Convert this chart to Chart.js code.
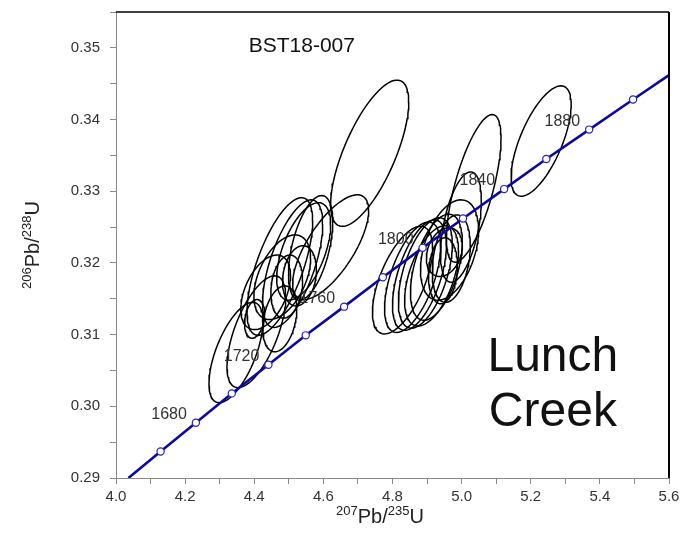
<!DOCTYPE html>
<html>
<head>
<meta charset="utf-8">
<script src="https://cdn.jsdelivr.net/npm/chart.js@4.4.0/dist/chart.umd.min.js"></script>
<style>
  body { margin: 0; background: #fff; }
  #wrap { width: 683px; height: 535px; position: relative; }
</style>
</head>
<body>
<div id="wrap"><canvas id="concordia"></canvas></div>
<script>
// concordia age markers (Ma) and their ratios
var markerAges = [1660, 1680, 1700, 1720, 1740, 1760, 1780, 1800, 1820, 1840, 1860, 1880, 1900];
var markerX = [4.129, 4.231, 4.335, 4.441, 4.549, 4.660, 4.772, 4.887, 5.004, 5.123, 5.245, 5.369, 5.496];
var markerY = [0.2937, 0.2977, 0.3018, 0.3058, 0.3099, 0.3139, 0.3180, 0.3221, 0.3262, 0.3303, 0.3345, 0.3386, 0.3428];
var labelAges = [1680, 1720, 1760, 1800, 1840, 1880];

// where the curve leaves the plot
var curveStart = [4.036, 0.290];
var curveEnd = [5.600, 0.3462];

// zircon analyses: 207Pb/235U, 206Pb/238U, 2 sigma half widths, error correlation
var ellX   = [4.347, 4.406, 4.401, 4.474, 4.433, 4.481, 4.494, 4.531, 4.474, 4.511, 4.543, 4.563, 4.621, 4.734,
              4.829, 4.858, 4.878, 4.895, 4.913, 4.927, 4.946, 4.970, 4.998, 5.035, 4.965, 4.950, 5.230];
var ellY   = [0.3075, 0.3104, 0.3122, 0.3122, 0.3159, 0.3180, 0.3167, 0.3182, 0.3195, 0.3199, 0.3216, 0.3221, 0.3222, 0.3353,
              0.3176, 0.3180, 0.3183, 0.3186, 0.3182, 0.3194, 0.3189, 0.3206, 0.3250, 0.3304, 0.3218, 0.3215, 0.3370];
var ellSx  = [0.078, 0.085, 0.029, 0.049, 0.072, 0.082, 0.046, 0.049, 0.095, 0.087, 0.078, 0.064, 0.110, 0.113,
              0.087, 0.081, 0.078, 0.078, 0.078, 0.075, 0.042, 0.055, 0.059, 0.079, 0.084, 0.052, 0.087];
var ellSy  = [0.0070, 0.0078, 0.0027, 0.0046, 0.0052, 0.0059, 0.0044, 0.0042, 0.0096, 0.0089, 0.0068, 0.0073, 0.0073, 0.0102,
              0.0075, 0.0077, 0.0077, 0.0077, 0.0070, 0.0074, 0.0046, 0.0061, 0.0077, 0.0103, 0.0070, 0.0034, 0.0077];
var ellRho = [0.62, 0.62, 0.25, 0.30, 0.45, 0.45, 0.20, 0.20, 0.66, 0.62, 0.55, 0.50, 0.70, 0.70,
              0.60, 0.57, 0.55, 0.52, 0.50, 0.48, 0.15, 0.30, 0.48, 0.68, 0.40, 0.25, 0.66];

function ellipsePoints(i) {
  var pts = [];
  var k = Math.sqrt(1 - ellRho[i] * ellRho[i]);
  for (var s = 0; s <= 90; s++) {
    var t = s / 90 * Math.PI * 2;
    pts.push({
      x: ellX[i] + ellSx[i] * Math.cos(t),
      y: ellY[i] + ellSy[i] * (ellRho[i] * Math.cos(t) + k * Math.sin(t))
    });
  }
  return pts;
}

var markerPts = [];
for (var i = 0; i < markerAges.length; i++) markerPts.push({x: markerX[i], y: markerY[i]});
var curvePts = [{x: curveStart[0], y: curveStart[1]}].concat(markerPts, [{x: curveEnd[0], y: curveEnd[1]}]);

var datasets = [
  {
    data: markerPts, showLine: false,
    pointRadius: 3.6, pointBackgroundColor: '#fff', pointBorderColor: '#2222cc', pointBorderWidth: 1.2
  },
  {
    data: curvePts, showLine: true, borderColor: '#0a0a9e', borderWidth: 2.6, pointRadius: 0
  }
];
for (var j = 0; j < ellX.length; j++) {
  datasets.push({
    data: ellipsePoints(j), showLine: true, borderColor: '#000', borderWidth: 1.5, pointRadius: 0
  });
}

function drawRatio(ctx, parts, x, y, size) {
  var sup = Math.round(size * 0.65);
  var w = 0;
  parts.forEach(function (p) {
    ctx.font = (p.sup ? sup : size) + 'px "Liberation Sans", Arial, sans-serif';
    w += ctx.measureText(p.t).width;
  });
  var cx = x - w / 2;
  parts.forEach(function (p) {
    ctx.font = (p.sup ? sup : size) + 'px "Liberation Sans", Arial, sans-serif';
    ctx.fillText(p.t, cx, p.sup ? y - size * 0.38 : y);
    cx += ctx.measureText(p.t).width;
  });
}

var annotations = {
  id: 'annotations',
  afterDraw: function (chart) {
    var ctx = chart.ctx, a = chart.chartArea;
    var xs = chart.scales.x, ys = chart.scales.y;
    ctx.save();
    // frame on top and right
    ctx.strokeStyle = '#000';
    ctx.lineWidth = 1.5;
    ctx.beginPath();
    ctx.moveTo(a.left, a.top); ctx.lineTo(a.right, a.top);
    ctx.stroke();
    ctx.lineWidth = 2;
    ctx.beginPath();
    ctx.moveTo(a.right, a.top); ctx.lineTo(a.right, a.bottom);
    ctx.stroke();

    // age labels beside the markers
    ctx.fillStyle = '#333';
    ctx.font = '16px "Liberation Sans", Arial, sans-serif';
    ctx.textAlign = 'right';
    ctx.textBaseline = 'middle';
    labelAges.forEach(function (age) {
      var n = markerAges.indexOf(age);
      ctx.fillText(String(age), xs.getPixelForValue(markerX[n]) - 9, ys.getPixelForValue(markerY[n]) - 8);
    });

    // sample name and locality
    ctx.fillStyle = '#111';
    ctx.textAlign = 'left';
    ctx.font = '21px "Liberation Sans", Arial, sans-serif';
    ctx.fillText('BST18-007', xs.getPixelForValue(4.384), ys.getPixelForValue(0.3502));
    ctx.textAlign = 'center';
    ctx.font = '48px "Liberation Sans", Arial, sans-serif';
    ctx.fillText('Lunch', xs.getPixelForValue(5.264), ys.getPixelForValue(0.3068));
    ctx.fillText('Creek', xs.getPixelForValue(5.264), ys.getPixelForValue(0.2991));

    // axis titles
    ctx.fillStyle = '#222';
    ctx.textAlign = 'left';
    ctx.textBaseline = 'alphabetic';
    drawRatio(ctx, [{t: '207', sup: true}, {t: 'Pb/'}, {t: '235', sup: true}, {t: 'U'}], 380, 523, 20);
    ctx.translate(39, 245);
    ctx.rotate(-Math.PI / 2);
    drawRatio(ctx, [{t: '206', sup: true}, {t: 'Pb/'}, {t: '238', sup: true}, {t: 'U'}], 0, 0, 20);
    ctx.restore();
  }
};

new Chart(document.getElementById('concordia'), {
  type: 'scatter',
  data: { datasets: datasets },
  options: {
    responsive: true,
    maintainAspectRatio: false,
    animation: false,
    layout: { padding: { top: 12, right: 14, left: 0, bottom: 0 } },
    plugins: { legend: { display: false }, tooltip: { enabled: false } },
    scales: {
      x: {
        type: 'linear', min: 4.0, max: 5.6,
        border: { color: '#8a8a8a', width: 1 },
        grid: { drawOnChartArea: false, drawTicks: true, tickLength: 6, color: '#8a8a8a' },
        ticks: {
          stepSize: 0.1, autoSkip: false, maxRotation: 0, padding: 4,
          color: '#333', font: { size: 15, family: '"Liberation Sans", Arial, sans-serif' },
          callback: function (v) {
            var k = Math.round(v * 10);
            return k % 2 === 0 ? (k / 10).toFixed(1) : '';
          }
        },
        afterFit: function (s) { s.height = 57; s.paddingLeft = 0; s.paddingRight = 0; }
      },
      y: {
        type: 'linear', min: 0.29, max: 0.355,
        border: { color: '#8a8a8a', width: 1 },
        grid: { drawOnChartArea: false, drawTicks: true, tickLength: 6, color: '#8a8a8a' },
        ticks: {
          stepSize: 0.005, autoSkip: false, padding: 10,
          color: '#333', font: { size: 15, family: '"Liberation Sans", Arial, sans-serif' },
          callback: function (v) {
            var k = Math.round(v * 1000);
            return (k % 10 === 0 && k < 355) ? (k / 1000).toFixed(2) : '';
          }
        },
        afterFit: function (s) { s.width = 116; s.paddingTop = 0; s.paddingBottom = 0; }
      }
    }
  },
  plugins: [annotations]
});
</script>
</body>
</html>
